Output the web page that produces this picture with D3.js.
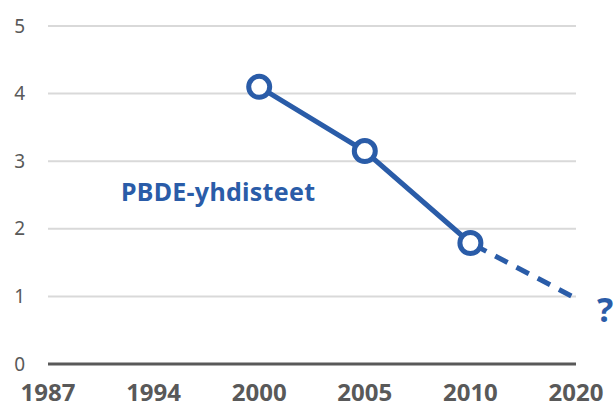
<!DOCTYPE html>
<html>
<head>
<meta charset="utf-8">
<script src="https://cdn.jsdelivr.net/npm/d3@7"></script>
<style>
  body { margin: 0; background: #fff; }
  svg { display: block; }
</style>
</head>
<body>
<div id="chart"></div>
<script>
// data
let years = ["1987", "1994", "2000", "2005", "2010", "2020"];
let yTicks = [0, 1, 2, 3, 4, 5];
let measuredYears = ["2000", "2005", "2010"];
let measuredValues = [4.1, 3.15, 1.79];
let forecastYears = ["2010", "2020"];
let forecastValues = [1.79, 0.97];
let seriesLabel = "PBDE-yhdisteet";

let width = 615, height = 414;
let blue = "#2a5ca8";
let grey = "#595959";

let xScale = d3.scalePoint().domain(years).range([48, 576]);
let yScale = d3.scaleLinear().domain([0, 5]).range([364, 26]);

let svg = d3.select("#chart").append("svg")
  .attr("width", width)
  .attr("height", height);

// gridlines
svg.append("g")
  .selectAll("line")
  .data(yTicks.filter(d => d > 0))
  .enter()
  .append("line")
  .attr("x1", 48).attr("x2", 576)
  .attr("y1", d => yScale(d)).attr("y2", d => yScale(d))
  .attr("stroke", "#d9d9d9")
  .attr("stroke-width", 2);

// y labels
svg.append("g")
  .selectAll("text")
  .data(yTicks)
  .enter()
  .append("text")
  .attr("x", 25)
  .attr("y", d => yScale(d))
  .attr("dy", "0.35em")
  .attr("text-anchor", "end")
  .attr("font-family", "Noto Sans")
  .attr("font-size", 19)
  .attr("fill", grey)
  .text(d => d);

// x axis line
svg.append("line")
  .attr("x1", 48).attr("x2", 576)
  .attr("y1", yScale(0)).attr("y2", yScale(0))
  .attr("stroke", grey)
  .attr("stroke-width", 3);

// x labels
svg.append("g")
  .selectAll("text")
  .data(years)
  .enter()
  .append("text")
  .attr("x", d => xScale(d))
  .attr("y", 401)
  .attr("text-anchor", "middle")
  .attr("font-family", "Noto Sans")
  .attr("font-weight", "bold")
  .attr("font-size", 24)
  .attr("fill", grey)
  .text(d => d);

let line = d3.line()
  .x(d => xScale(d[0]))
  .y(d => yScale(d[1]));

// forecast (dashed)
svg.append("path")
  .attr("d", line(d3.zip(forecastYears, forecastValues)))
  .attr("fill", "none")
  .attr("stroke", blue)
  .attr("stroke-width", 5)
  .attr("stroke-dasharray", "14,10")
  .attr("stroke-dashoffset", -4);

// measured (solid)
svg.append("path")
  .attr("d", line(d3.zip(measuredYears, measuredValues)))
  .attr("fill", "none")
  .attr("stroke", blue)
  .attr("stroke-width", 5);

svg.append("g")
  .selectAll("circle")
  .data(d3.zip(measuredYears, measuredValues))
  .enter()
  .append("circle")
  .attr("cx", d => xScale(d[0]))
  .attr("cy", d => yScale(d[1]))
  .attr("r", 10.5)
  .attr("fill", "#fff")
  .attr("stroke", blue)
  .attr("stroke-width", 5);

// labels
svg.append("text")
  .attr("x", 121)
  .attr("y", 201)
  .attr("font-family", "Noto Sans")
  .attr("font-weight", "bold")
  .attr("font-size", 25)
  .attr("textLength", 194)
  .attr("fill", blue)
  .text(seriesLabel);

svg.append("text")
  .attr("x", 605)
  .attr("y", 322)
  .attr("text-anchor", "middle")
  .attr("font-family", "Noto Sans")
  .attr("font-weight", "bold")
  .attr("font-size", 34)
  .attr("fill", blue)
  .text("?");
</script>
</body>
</html>
